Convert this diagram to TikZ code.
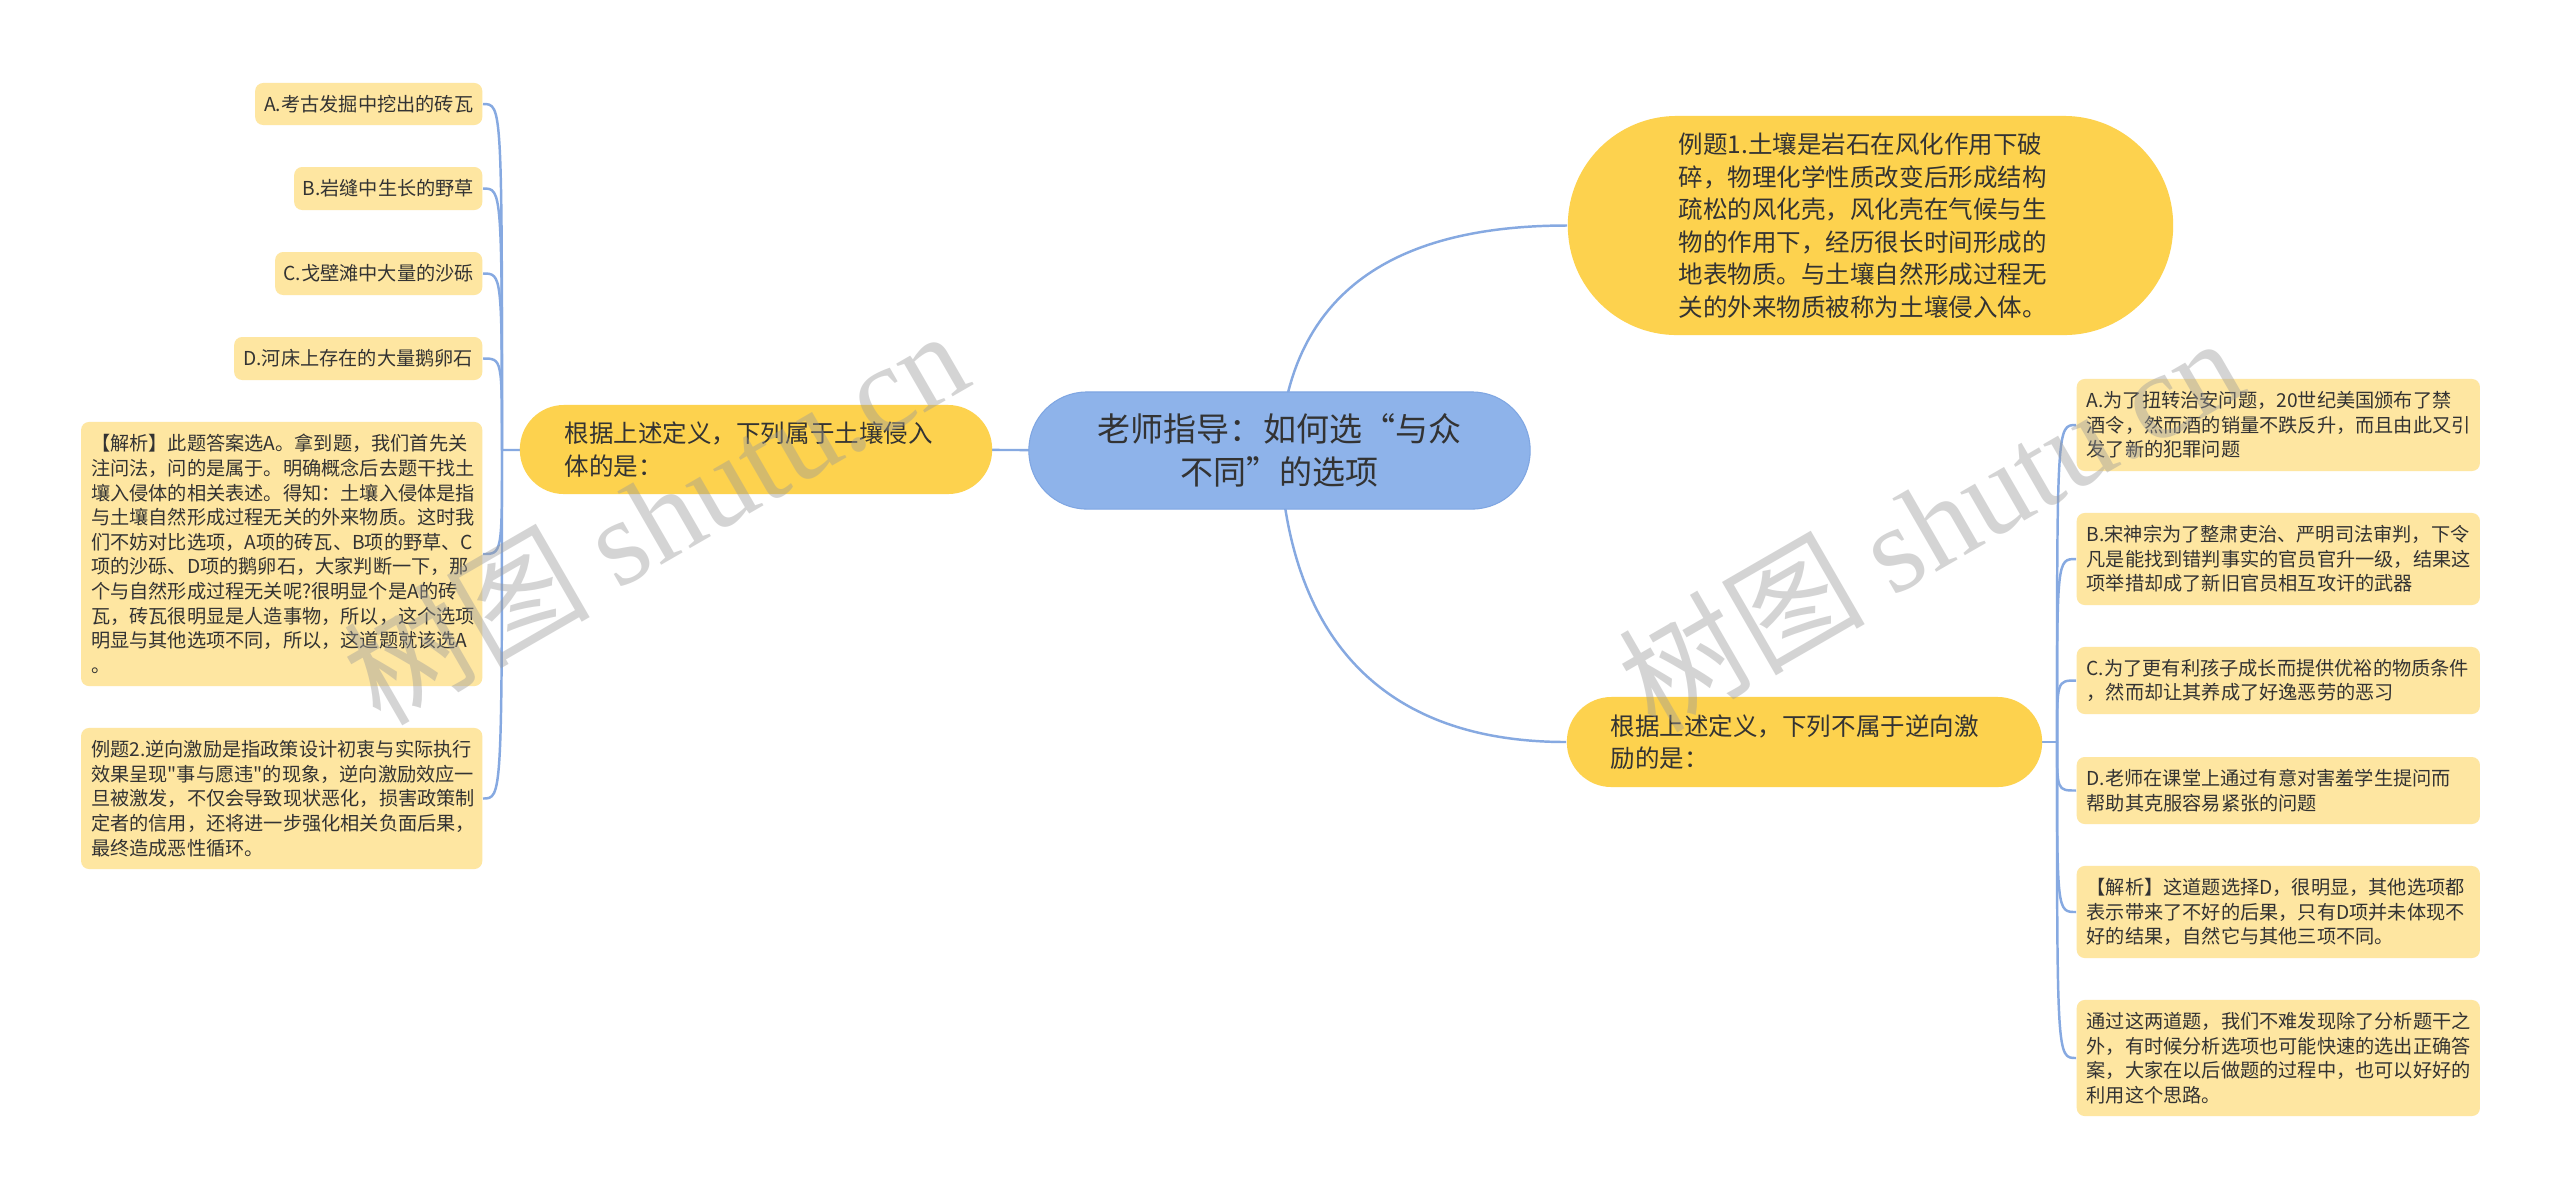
\documentclass[tikz,border=0pt]{standalone}
\usepackage{fontspec}
\setmainfont{Noto Sans CJK SC}[Ligatures=TeXOff]
\newfontfamily\cjkfw{Noto Sans CJK SC}[RawFeature=+fwid]
\newfontfamily\wmserif{Liberation Serif}
\usetikzlibrary{calc}
\pgfdeclarelayer{background}
\pgfsetlayers{background,main}
\definecolor{lineblue}{HTML}{86A9E1}
\definecolor{rootblue}{HTML}{8EB3EA}
\definecolor{rootborder}{HTML}{7FA6E2}
\definecolor{mainyellow}{HTML}{FDD24E}
\definecolor{leafyellow}{HTML}{FEE6A1}
\definecolor{txt}{HTML}{333333}
\definecolor{wmgray}{HTML}{9A9A9A}
\begin{document}
\begin{tikzpicture}[x=0.01cm,y=-0.01cm,
  leaf/.style={fill=leafyellow, rounded corners=0.08cm, inner ysep=0pt, inner xsep=0.1cm, align=left, text=txt, font=\fontsize{5.46pt}{7pt}\selectfont},
  branch/.style={fill=mainyellow, inner ysep=0pt, align=left, text=txt, font=\fontsize{6.97pt}{9.25pt}\selectfont},
  root/.style={fill=rootblue, draw=rootborder, line width=0.3pt, inner sep=0pt, align=center, text=txt, font=\cjkfw\fontsize{9.39pt}{12.23pt}\selectfont},
  conn/.style={draw=lineblue, line width=0.7pt},
  wm/.style={text=wmgray, opacity=0.42, font=\fontsize{35pt}{35pt}\selectfont, rotate=30, inner sep=0pt}
]
\useasboundingbox (0,0) rectangle (2560,1199);

% root
\node[root, minimum width=5.01cm, minimum height=1.17cm, rounded corners=0.58cm] (c) at (1279.5,450.5) {老师指导：如何选“与众\\不同”的选项};

% main branches
\node[branch, text width=3.82cm, inner xsep=0.45cm, minimum height=0.89cm, rounded corners=0.44cm] (lm) at (756,449.5) {根据上述定义，下列属于土壤侵入\\体的是：};
\node[branch, text width=3.83cm, inner xsep=1.11cm, minimum height=2.19cm, rounded corners=1.09cm] (rt) at (1870.5,225.5) {例题1.土壤是岩石在风化作用下破\\碎，物理化学性质改变后形成结构\\疏松的风化壳，风化壳在气候与生\\物的作用下，经历很长时间形成的\\地表物质。与土壤自然形成过程无\\关的外来物质被称为土壤侵入体。};
\node[branch, text width=3.87cm, inner xsep=0.44cm, minimum height=0.90cm, rounded corners=0.445cm] (rm) at (1804.5,742) {根据上述定义，下列不属于逆向激\\励的是：};

% left leaves
\node[leaf, anchor=east, align=center, inner xsep=0pt, minimum width=2.27cm, minimum height=0.42cm] (la) at (483,104) {A.考古发掘中挖出的砖瓦};
\node[leaf, anchor=east, align=center, inner xsep=0pt, minimum width=1.88cm, minimum height=0.43cm] (lb) at (483,188.5) {B.岩缝中生长的野草};
\node[leaf, anchor=east, align=center, inner xsep=0pt, minimum width=2.07cm, minimum height=0.43cm] (lc) at (483,273.5) {C.戈壁滩中大量的沙砾};
\node[leaf, anchor=east, align=center, inner xsep=0pt, minimum width=2.48cm, minimum height=0.43cm] (ld) at (483,358.5) {D.河床上存在的大量鹅卵石};
\node[leaf, anchor=east, text width=3.81cm, minimum height=2.64cm] (lj) at (483,554) {【解析】此题答案选A。拿到题，我们首先关\\注问法，问的是属于。明确概念后去题干找土\\壤入侵体的相关表述。得知：土壤入侵体是指\\与土壤自然形成过程无关的外来物质。这时我\\们不妨对比选项，A项的砖瓦、B项的野草、C\\项的沙砾、D项的鹅卵石，大家判断一下，那\\个与自然形成过程无关呢?很明显个是A的砖\\瓦，砖瓦很明显是人造事物，所以，这个选项\\明显与其他选项不同，所以，这道题就该选A\\。};
\node[leaf, anchor=east, text width=3.81cm, minimum height=1.41cm] (le) at (483,798.5) {例题2.逆向激励是指政策设计初衷与实际执行\\效果呈现"事与愿违"的现象，逆向激励效应一\\旦被激发，不仅会导致现状恶化，损害政策制\\定者的信用，还将进一步强化相关负面后果，\\最终造成恶性循环。};

% right leaves
\node[leaf, anchor=west, text width=3.83cm, minimum height=0.92cm] (ra) at (2076,425) {A.为了扭转治安问题，20世纪美国颁布了禁\\酒令，然而酒的销量不跌反升，而且由此又引\\发了新的犯罪问题};
\node[leaf, anchor=west, text width=3.83cm, minimum height=0.92cm] (rb) at (2076,559) {B.宋神宗为了整肃吏治、严明司法审判，下令\\凡是能找到错判事实的官员官升一级，结果这\\项举措却成了新旧官员相互攻讦的武器};
\node[leaf, anchor=west, text width=3.83cm, minimum height=0.67cm] (rc) at (2076,680.5) {C.为了更有利孩子成长而提供优裕的物质条件\\，然而却让其养成了好逸恶劳的恶习};
\node[leaf, anchor=west, text width=3.83cm, minimum height=0.67cm] (rd) at (2076,790.5) {D.老师在课堂上通过有意对害羞学生提问而\\帮助其克服容易紧张的问题};
\node[leaf, anchor=west, text width=3.83cm, minimum height=0.92cm] (rj) at (2076,912) {【解析】这道题选择D，很明显，其他选项都\\表示带来了不好的后果，只有D项并未体现不\\好的结果，自然它与其他三项不同。};
\node[leaf, anchor=west, text width=3.83cm, minimum height=1.16cm] (rf) at (2076,1058) {通过这两道题，我们不难发现除了分析题干之\\外，有时候分析选项也可能快速的选出正确答\\案，大家在以后做题的过程中，也可以好好的\\利用这个思路。};

% connectors
\begin{pgfonlayer}{background}
\fill[white] (0,0) rectangle (2560,1199);
\coordinate (jl) at (502,450);
\coordinate (jr) at (2057,742);
\draw[conn] (c.center) -- (lm.center);
\draw[conn] (lm.center) -- (jl);
\foreach \n in {la,lb,lc,ld,lj,le} {
  \draw[conn] (jl) .. controls (jl |- \n.east) .. (\n.east);
}
\draw[conn] (rm.center) -- (jr);
\foreach \n in {ra,rb,rc,rd,rj,rf} {
  \draw[conn] (jr) .. controls (jr |- \n.west) .. (\n.west);
}
\draw[conn] (c.center) .. controls (1288,300) and (1384,225.5) .. (rt.west);
\draw[conn] (c.center) .. controls (1288,640) and (1384,742) .. (rm.west);
\end{pgfonlayer}

% watermarks
\node[wm] (w1) at (655,515) {树图 {\wmserif shutu.cn}};
\node[wm] (w2) at (1930,522) {树图 {\wmserif shutu.cn}};
\end{tikzpicture}
\end{document}
